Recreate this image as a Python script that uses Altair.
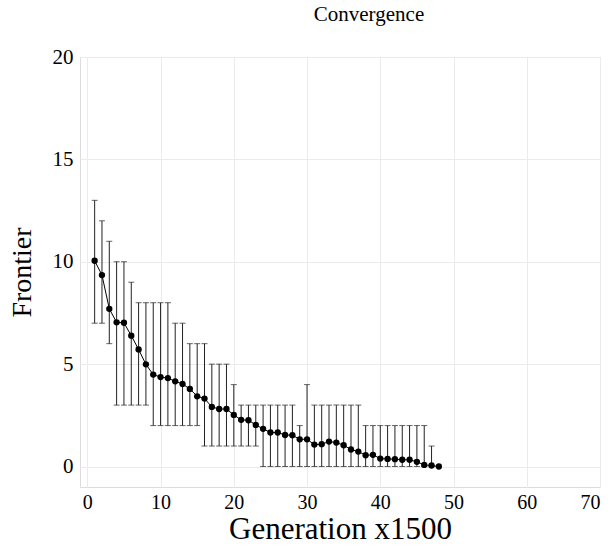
import altair as alt
import pandas as pd

generation = list(range(1, 49))
frontier = [10.05, 9.35, 7.7, 7.04, 7.02, 6.39, 5.72, 4.99, 4.49, 4.37,
            4.32, 4.16, 4.03, 3.79, 3.43, 3.32, 2.91, 2.81, 2.81, 2.52,
            2.28, 2.26, 2.03, 1.84, 1.66, 1.66, 1.54, 1.53, 1.33, 1.33,
            1.07, 1.09, 1.22, 1.17, 1.04, 0.83, 0.73, 0.55, 0.57, 0.39,
            0.37, 0.36, 0.33, 0.33, 0.23, 0.08, 0.05, 0.0]
err_low = [7, 7, 6, 3, 3, 3, 3, 3, 2, 2,
           2, 2, 2, 2, 2, 1, 1, 1, 1, 1,
           1, 1, 1, 0, 0, 0, 0, 0, 0, 0,
           0, 0, 0, 0, 0, 0, 0, 0, 0, 0,
           0, 0, 0, 0, 0, 0, 0, 0]
err_high = [13, 12, 11, 10, 10, 9, 8, 8, 8, 8,
            8, 7, 7, 6, 6, 6, 5, 5, 5, 4,
            3, 3, 3, 3, 3, 3, 3, 3, 2, 4,
            3, 3, 3, 3, 3, 3, 3, 2, 2, 2,
            2, 2, 2, 2, 2, 2, 1, 0]

x_ticks = [0, 10, 20, 30, 40, 50, 60, 70]
y_ticks = [0, 5, 10, 15, 20]

df = pd.DataFrame({"gen": generation, "frontier": frontier,
                   "lo": err_low, "hi": err_high})

FONT = "Liberation Serif"

x = alt.X("gen:Q", scale=alt.Scale(domain=[-1, 70], nice=False, zero=False),
          axis=alt.Axis(values=x_ticks, title="Generation x1500", grid=True,
                        domain=False, ticks=False, labelPadding=5,
                        labelFont=FONT, titleFont=FONT,
                        labelFontSize=20, titleFontSize=31, titlePadding=2,
                        titleFontWeight="normal", labelColor="black",
                        titleColor="black", gridColor="#ebebeb"))
y = alt.Y("frontier:Q", scale=alt.Scale(domain=[-1, 20], nice=False, zero=False),
          axis=alt.Axis(values=y_ticks, title="Frontier", grid=True,
                        domain=False, ticks=False, labelPadding=7,
                        labelFont=FONT, titleFont=FONT,
                        labelFontSize=21, titleFontSize=28, titlePadding=16,
                        titleFontWeight="normal", labelColor="black",
                        titleColor="black", gridColor="#ebebeb"))

base = alt.Chart(df)

rules = base.mark_rule(color="#222222", strokeWidth=1).encode(
    x=x, y=alt.Y("lo:Q"), y2="hi:Q")
caps_lo = base.mark_tick(color="#222222", thickness=1, size=6,
                         orient="horizontal").encode(x="gen:Q", y="lo:Q")
caps_hi = base.mark_tick(color="#222222", thickness=1, size=6,
                         orient="horizontal").encode(x="gen:Q", y="hi:Q")
line = base.mark_line(color="black", strokeWidth=1).encode(x="gen:Q", y=y)
points = base.mark_circle(color="black", opacity=1, size=40).encode(
    x="gen:Q", y="frontier:Q")

chart = alt.layer(rules, caps_lo, caps_hi, line, points).properties(
    width=520, height=430,
    title=alt.TitleParams("Convergence", fontSize=21, font=FONT,
                          fontWeight="normal", anchor="middle", dx=29,
                          offset=21, color="black"),
    autosize=alt.AutoSizeParams(type="none"),
    padding={"left": 80, "top": 57, "right": 11, "bottom": 64},
).configure_view(
    stroke="black", strokeWidth=1
).configure_title(
    font=FONT, fontWeight="normal"
).configure(background="white", font=FONT)

chart.save("out.html", embed_options={"renderer": "svg", "actions": False})
